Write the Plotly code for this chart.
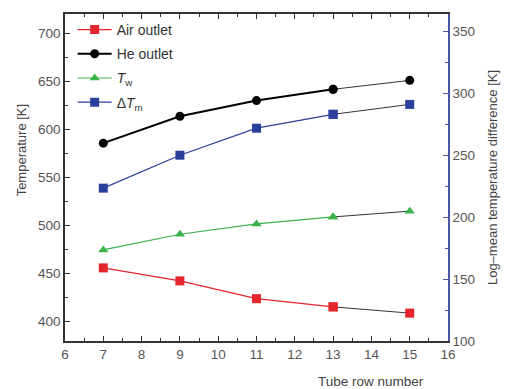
import plotly.graph_objects as go

rows = [7, 9, 11, 13, 15]
air_outlet = [456, 442.5, 424, 415.5, 409]
he_outlet = [585.7, 613.7, 630, 641.7, 651]
t_wall = [474.7, 491, 501.7, 509, 515]
dtm = [223.4, 250, 271.8, 283, 291]

series = [
    ("Air outlet", air_outlet, "#e4252b", "square", 1.2, "y"),
    ("He outlet", he_outlet, "#000000", "circle", 2.0, "y"),
    ("<i>T</i><sub>w</sub>", t_wall, "#3cb34a", "triangle-up", 1.2, "y"),
    ("Δ<i>T</i><sub>m</sub>", dtm, "#2b3f9c", "square", 1.2, "y2"),
]

fig = go.Figure()
for i, (name, ys, col, sym, lw, ax) in enumerate(series):
    # thin black tail segment (13 -> 15)
    fig.add_trace(go.Scatter(
        x=rows[3:], y=ys[3:], mode="lines+markers", yaxis=ax,
        line=dict(color="black", width=0.8),
        marker=dict(color=col, symbol=sym, size=9),
        showlegend=False, hoverinfo="skip"))
    fig.add_trace(go.Scatter(
        x=rows[:4], y=ys[:4], mode="lines+markers", yaxis=ax, name=name,
        line=dict(color=col, width=lw),
        marker=dict(color=col, symbol=sym, size=9),
        legendgroup=f"g{i}"))

font = "Liberation Sans, Arial, sans-serif"
fig.update_layout(
    width=510, height=389,
    margin=dict(l=65, r=58, t=14, b=48),
    paper_bgcolor="white", plot_bgcolor="white",
    font=dict(family=font, size=13, color="#444"),
    showlegend=True,
    legend=dict(x=0.02, y=1.0, xanchor="left", yanchor="top",
                bgcolor="rgba(0,0,0,0)", font=dict(size=14, color="#333"),
                tracegroupgap=3, itemwidth=34),
    xaxis=dict(range=[6, 16], dtick=1, tick0=6, showgrid=False, zeroline=False,
               showline=True, linecolor="#333", linewidth=1.5, mirror="ticks",
               ticks="inside", ticklen=5, tickcolor="#333",
               minor=dict(dtick=0.5, ticks="inside", ticklen=3, tickcolor="#333"),
               tickfont=dict(size=13.5, color="#555")),
    yaxis=dict(range=[380, 720], dtick=50, tick0=400, showgrid=False, zeroline=False,
               showline=True, linecolor="#333", linewidth=1.5,
               ticks="inside", ticklen=5, tickcolor="#333",
               minor=dict(dtick=25, ticks="inside", ticklen=3, tickcolor="#333"),
               tickfont=dict(size=13.5, color="#555")),
    yaxis2=dict(range=[100, 364], dtick=50, tick0=100, overlaying="y", side="right",
                showgrid=False, zeroline=False,
                showline=True, linecolor="#4a55a5", linewidth=1.5,
                ticks="inside", ticklen=5, tickcolor="#4a55a5",
                minor=dict(dtick=25, ticks="inside", ticklen=3, tickcolor="#4a55a5"),
                tickfont=dict(size=13.5, color="#555"),
                title=dict(text="Log–mean temperature difference [K]",
                           font=dict(size=13, color="#444"), standoff=14)),
    annotations=[
        dict(text="Temperature [K]", xref="paper", yref="paper", x=-0.114, y=0.584,
             xanchor="center", yanchor="middle", textangle=-90, showarrow=False,
             font=dict(size=13, color="#444")),
        dict(text="Tube row number", xref="x", yref="paper", x=14.0, y=-0.125,
             xanchor="center", yanchor="middle", showarrow=False,
             font=dict(size=13.5, color="#444")),
    ],
)

fig.write_html("out.html")
